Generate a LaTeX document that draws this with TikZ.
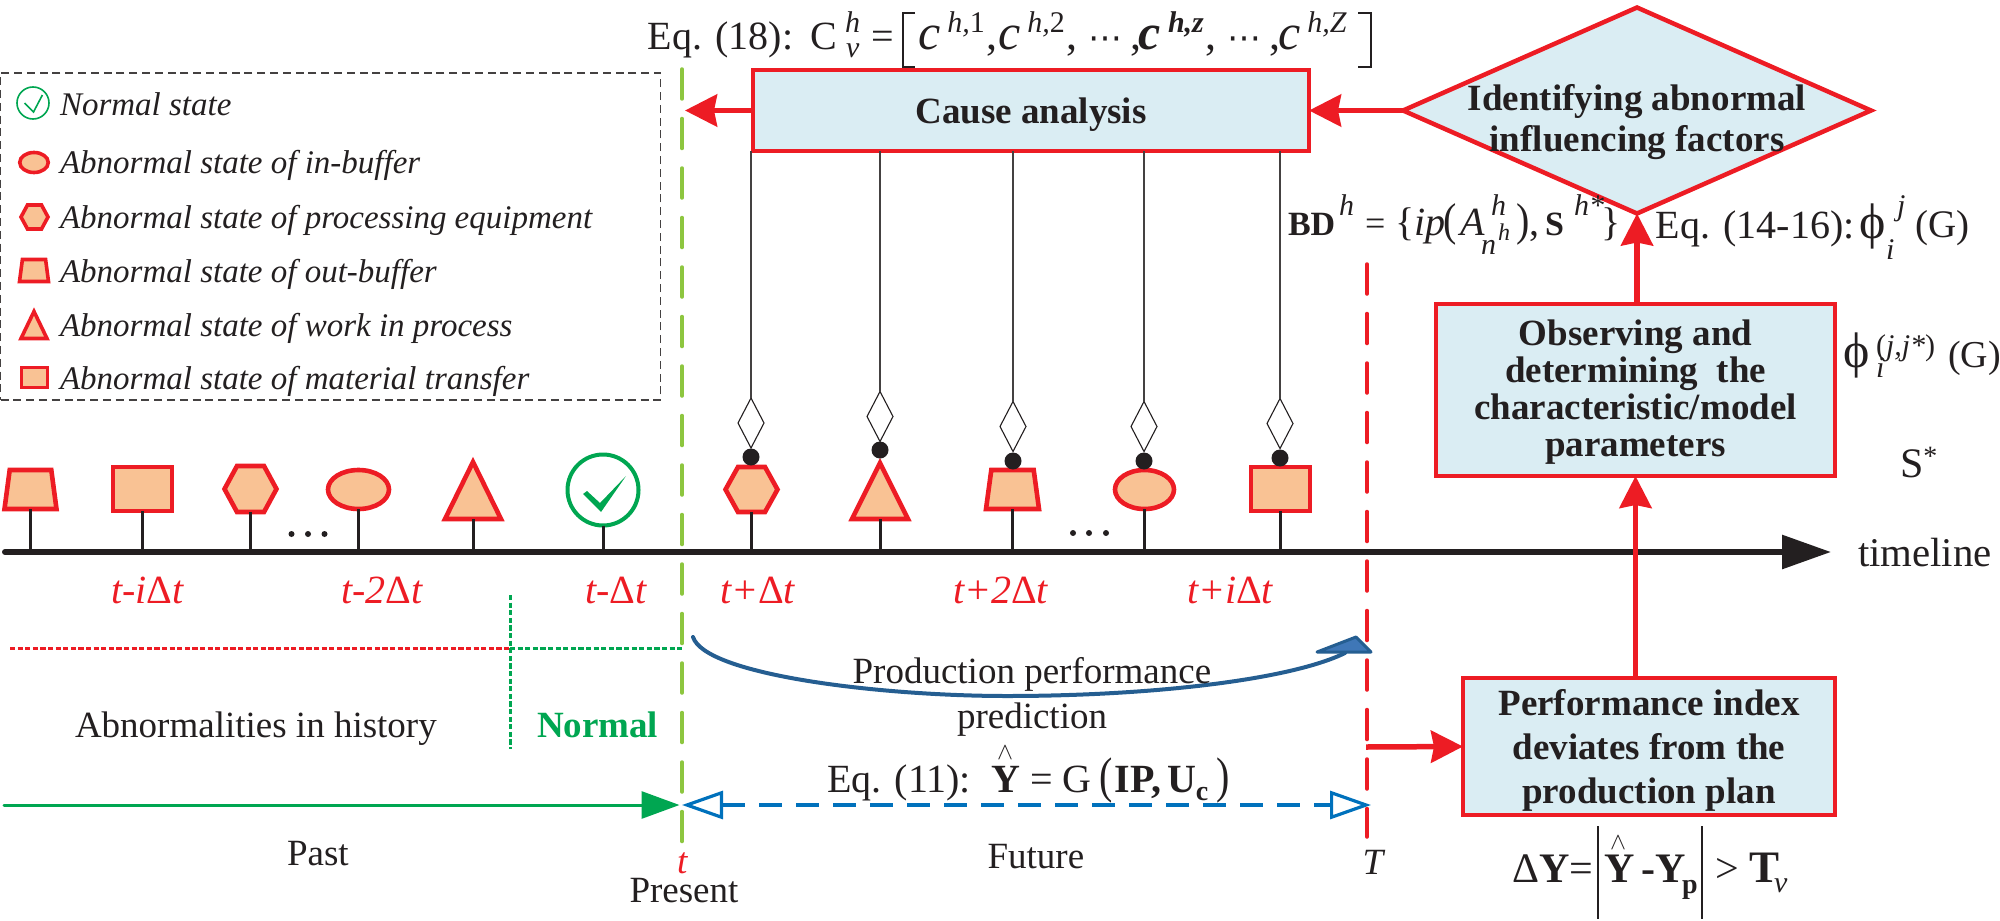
\documentclass[tikz,border=0pt]{standalone}
\usepackage{fontspec}
\setmainfont{Liberation Serif}
\newfontfamily\djv{DejaVu Sans}
\usetikzlibrary{arrows.meta,shapes.geometric,calc}
\definecolor{rd}{HTML}{ED1C24}
\definecolor{peach}{HTML}{F9C294}
\definecolor{boxfill}{HTML}{DAEDF3}
\definecolor{grn}{HTML}{00A651}
\definecolor{lime}{HTML}{8DC63F}
\definecolor{blu}{HTML}{0071BC}
\definecolor{curveblue}{HTML}{255E91}
\definecolor{headblue}{HTML}{3F77B7}
\definecolor{ink}{HTML}{231F20}
\newcommand\fsz[1]{\fontsize{#1}{#1}\selectfont}
\newcommand\sqz[2]{\scalebox{1}[#1]{#2}}
\newcommand\hatY{\rlap{\hspace{3pt}\raisebox{16.5pt}{\fsz{13}$\wedge$}}\textbf{Y}}
\newcommand\cterm[2]{{\fsz{25}\itshape #1c}\hspace{3.6pt}\raisebox{8.5pt}{\fsz{15}\itshape #1h,#2}\hspace{.6pt}{\fsz{22},}}
\tikzset{
  x=.5pt,y=-.5pt,
  every node/.style={text=ink,inner sep=0pt,outer sep=0pt},
  tx/.style={anchor=base west},
  lab/.style={tx,font=\fsz{18.5}},
  eqn/.style={tx,font=\fsz{20}},
  sups/.style={tx,font=\fsz{15}\itshape},
  leg/.style={tx,font=\fsz{16.5}\itshape},
  redt/.style={tx,font=\fsz{20}\itshape,text=rd},
  stepbox/.style={draw=rd,fill=boxfill,line width=2.25pt,align=center,font=\bfseries\fsz{18.5}},
  mk/.style={draw=rd,fill=peach,line width=2.3pt,line join=miter},
  mks/.style={draw=rd,fill=peach,line width=1.8pt,line join=miter},
  ghost/.style={draw=none,fill=none},
  stem/.style={draw=ink,line width=1.5pt},
  thin line/.style={draw=ink!85,line width=.6pt},
  hook/.style={draw=ink,fill=white,line width=.55pt,diamond,aspect=.5,minimum width=13pt,minimum height=25pt},
  ball/.style={circle,fill=ink,minimum size=8.5pt},
  redarrow/.style={draw=rd,line width=2.75pt,-{Stealth[length=16pt,width=16pt,inset=1.5pt]}},
  limedash/.style={draw=lime,line width=1.75pt,dash pattern=on 15pt off 9.75pt,line cap=round},
  reddash/.style={draw=rd,line width=1.75pt,dash pattern=on 15pt off 9.75pt,line cap=round},
  dotred/.style={draw=rd,line width=1.5pt,dash pattern=on 2.6pt off 1.2pt},
  dotgrn/.style={draw=grn,line width=1.5pt,dash pattern=on 2.6pt off 1.2pt},
}
% name, cx, cy, w, h, style
\newcommand\trapmark[6]{\node[ghost,minimum width=#4*.5pt,minimum height=#5*.5pt] (#1) at (#2,#3) {};
  \path[#6] (#1.south west) -- ($(#1.north west)!.1!(#1.north east)$) -- ($(#1.north east)!.1!(#1.north west)$) -- (#1.south east) -- cycle;}
\newcommand\hexmark[6]{\node[ghost,minimum width=#4*.5pt,minimum height=#5*.5pt] (#1) at (#2,#3) {};
  \path[#6] (#1.west) -- ($(#1.north west)!.24!(#1.north east)$) -- ($(#1.north east)!.24!(#1.north west)$) -- (#1.east) -- ($(#1.south east)!.24!(#1.south west)$) -- ($(#1.south west)!.24!(#1.south east)$) -- cycle;}
\newcommand\trimark[6]{\node[ghost,minimum width=#4*.5pt,minimum height=#5*.5pt] (#1) at (#2,#3) {};
  \path[#6] (#1.south west) -- (#1.north) -- (#1.south east) -- cycle;}
\newcommand\sqmark[6]{\node[rectangle,#6,minimum width=#4*.5pt,minimum height=#5*.5pt] (#1) at (#2,#3) {};}
\newcommand\ellmark[6]{\node[ellipse,#6,minimum width=#4*.5pt,minimum height=#5*.5pt] (#1) at (#2,#3) {};}
\begin{document}
\begin{tikzpicture}
\useasboundingbox (0,0) rectangle (2000,920);
% vertical dashed lines
\coordinate (limeTop) at (682,69); \coordinate (limeBot) at (682,842);
\draw[limedash] (limeTop) -- (limeBot);
\coordinate (tTop) at (1367,264); \coordinate (tBot) at (1367,837);
\draw[reddash] (tTop) -- (tBot);
% legend
\node[draw=ink!85,line width=.65pt,dash pattern=on 4pt off 2.4pt,minimum width=660*.5pt,minimum height=327*.5pt] (legend) at (330.5,236.5) {};
\node[circle,draw=grn,line width=.8pt,minimum size=16pt] (legCheck) at (33,103) {};
\draw[grn,line width=.8pt] (24.5,103) -- (33.5,112) -- (42.4,95);
\ellmark{legEll}{34}{162.5}{28.5}{20}{mks}
\hexmark{legHex}{34.5}{217}{27}{24}{mks}
\trapmark{legTrap}{34}{270.5}{29}{22}{mks}
\trimark{legTri}{34}{325}{26}{27}{mks}
\sqmark{legSq}{34.5}{377.5}{26}{20}{mks}
\node[leg] (l1) at (60,115) {Normal state};
\node[leg] (l2) at (60,173) {Abnormal state of in-buffer};
\node[leg] (l3) at (60,228) {Abnormal state of processing equipment};
\node[leg] (l4) at (60,282) {Abnormal state of out-buffer};
\node[leg] (l5) at (60,336) {Abnormal state of work in process};
\node[leg] (l6) at (60,389) {Abnormal state of material transfer};
% equation 18
\node[eqn] (eq18) at (647.6,50) {Eq. (18):};
\node[eqn] (eqC) at (810,50) {C};
\node[sups] (eqCh) at (845,33) {h};
\node[sups] (eqCv) at (846,58) {v};
\node[eqn] (eqEq) at (871,50) {=};
\coordinate (brLa) at (915,13); \coordinate (brLb) at (903,13); \coordinate (brLc) at (903,67); \coordinate (brLd) at (915,67);
\draw[ink,line width=.8pt] (brLa) -- (brLb) -- (brLc) -- (brLd);
\node[eqn] (c1) at (918,50) {\cterm{}{\textup{1}}};
\node[eqn] (c2) at (998,50) {\cterm{}{\textup{2}}};
\node[eqn] (d1) at (1088,50) {{\djv\fsz{17}⋯}\hspace{4pt}{\fsz{22},}};
\node[eqn] (c3) at (1138.6,50) {\cterm{\bfseries}{z}};
\node[eqn] (d2) at (1227,50) {{\djv\fsz{17}⋯}\hspace{4pt}{\fsz{22},}};
\node[eqn] (c4) at (1278,50) {{\fsz{25}\itshape c}\hspace{3.6pt}\raisebox{8.5pt}{\fsz{15}\itshape h,Z}};
\coordinate (brRa) at (1358,13); \coordinate (brRb) at (1371,13); \coordinate (brRc) at (1371,67); \coordinate (brRd) at (1358,67);
\draw[ink,line width=.8pt] (brRa) -- (brRb) -- (brRc) -- (brRd);
% cause analysis box
\node[stepbox,minimum width=556*.5pt,minimum height=81*.5pt] (cause) at (1031,110.5) {\rule{0pt}{17.3pt}Cause analysis};
\coordinate (causeTip) at (685,110.5);
\draw[redarrow] (cause.west) -- (causeTip);
% diamond
\node[diamond,draw=rd,fill=boxfill,line width=2.25pt,minimum width=468*.5pt,minimum height=206*.5pt,aspect=2.27,font=\bfseries\fsz{18.5}] (identify) at (1637,110.5) {\makebox[0pt]{\begin{tabular}{@{}c@{}}\rule{0pt}{26pt}Identifying abnormal\\[1.5pt]influencing factors\end{tabular}}};
\draw[redarrow] (identify.west) -- (cause.east);
% observing box
\node[stepbox,minimum width=399*.5pt,minimum height=172*.5pt] (observe) at (1635.5,390) {\rule{0pt}{14.8pt}Observing and\\[.0pt]determining\ \ the\\characteristic/model\\parameters};
\draw[redarrow] (observe.north -| identify.south) -- (identify.south);
% performance box
\node[stepbox,minimum width=372*.5pt,minimum height=137*.5pt] (perf) at (1649,746.5) {\rule{0pt}{16.8pt}Performance index\\[3.6pt]deviates from the\\[3.6pt]production plan};
% timeline
\coordinate (axisL) at (5,552); \coordinate (axisR) at (1831,552);
\draw[ink,line width=3pt,line cap=round,-{Triangle[length=24.5pt,width=16.5pt]}] (axisL) -- (axisR);
\node[tx,font=\fsz{20.4}] (timeline) at (1858,566) {timeline};
\draw[redarrow] (perf.north -| observe.south) -- (observe.south);
\coordinate (tMid) at (1366,747);
\draw[redarrow] (tMid) -- (perf.west);
% past markers
\trapmark{p1}{30.5}{489.5}{52}{39}{mk}
\sqmark{p2}{142.5}{489}{59}{44}{mk}
\hexmark{p3}{250.5}{489}{52}{46}{mk}
\ellmark{p4}{358.5}{489.5}{61}{39}{mk}
\trimark{p5}{473}{490.5}{56}{57}{mk}
\node[circle,draw=grn,line width=2pt,minimum size=35.5pt] (p6) at (603,490) {};
\path[fill=grn] (583,494) -- (587,491) -- (600,503) -- (626,476) -- (601,512) -- cycle;
\foreach \n in {p1,p2,p3,p4,p5,p6} \draw[stem] (\n.south) -- (\n.south |- axisL);
\foreach \i/\xx in {1/291.5,2/308,3/324.5} \node[circle,fill=ink,minimum size=3pt] (dl\i) at (\xx,534) {};
% future markers
\hexmark{f1}{751.5}{489.5}{52}{45}{mk}
\trimark{f2}{880}{491}{56}{56}{mk}
\trapmark{f3}{1012.5}{489.5}{53}{39}{mk}
\ellmark{f4}{1144.5}{489.5}{59}{39}{mk}
\sqmark{f5}{1280.5}{489}{59}{44}{mk}
\foreach \n in {f1,f2,f3,f4,f5} \draw[stem] (\n.south) -- (\n.south |- axisL);
\foreach \i/\xx in {1/1073,2/1089,3/1106} \node[circle,fill=ink,minimum size=3pt] (dr\i) at (\xx,533) {};
% hooks
\foreach \n/\xx/\ym/\yb in {1/751/423/457,2/880/416.5/450,3/1013/426.5/461,4/1144/426.5/461,5/1280/423.5/458}{
  \node[hook] (hk\n) at (\xx,\ym) {};
  \node[ball] (bl\n) at (\xx,\yb) {};
  \draw[thin line] (cause.south -| hk\n) -- (hk\n.north);
}
% time labels
\node[redt] (tl1) at (111,603) {t-i{\upshape Δ}t};
\node[redt] (tl2) at (341.5,603) {t-2{\upshape Δ}t};
\node[redt] (tl3) at (585,603) {t-{\upshape Δ}t};
\node[redt] (tl4) at (720,603) {t+{\upshape Δ}t};
\node[redt] (tl5) at (953,603) {t+2{\upshape Δ}t};
\node[redt] (tl6) at (1187,603) {t+i{\upshape Δ}t};
% dotted lines
\coordinate (dotL) at (10,648); \coordinate (dotM) at (510,648); \coordinate (dotR) at (683,648);
\coordinate (dotT) at (510,595); \coordinate (dotB) at (510,749);
\draw[dotred] (dotL) -- (dotM);
\draw[dotgrn] (dotM) -- (dotR);
\draw[dotgrn] (dotT) -- (dotB);
\node[lab] (hist) at (75,737) {Abnormalities in history};
\node[lab,font=\bfseries\fsz{18.5},text=grn] (normal) at (537,737) {Normal};
% prediction curve
\coordinate (cvS) at (693,637); \coordinate (cvM) at (1007,696); \coordinate (cvE) at (1345,653);
\draw[curveblue,line width=2pt,line cap=round] (cvS) .. controls (705,675) and (880,696) .. (cvM) .. controls (1150,696) and (1290,680) .. (cvE);
\coordinate (hdA) at (1317,652); \coordinate (hdB) at (1356,637); \coordinate (hdC) at (1371,652);
\draw[curveblue,fill=headblue,line width=1.5pt,line join=round] (hdA) -- (hdB) -- (hdC) -- cycle;
\node[lab] (pp1) at (852.6,683) {Production performance};
\node[lab] (pp2) at (957,728) {prediction};
% bottom arrows
\coordinate (pastL) at (4,805); \coordinate (pastR) at (679.5,805);
\draw[grn,line width=1.5pt,line cap=round,-{Triangle[length=19pt,width=13.5pt]}] (pastL) -- (pastR);
\coordinate (futL) at (682,805); \coordinate (futR) at (1371,805);
\draw[blu,line width=1.6pt,dash pattern=on 11.5pt off 7pt,{Triangle[open,length=20.5pt,width=14pt]}-{Triangle[open,length=20.5pt,width=14pt]}] (futL) -- (futR);
\node[lab] (past) at (287,865) {Past};
\node[redt,font=\fsz{18.5}\itshape] (tt) at (677,873) {t};
\node[lab] (present) at (629.5,902) {Present};
\node[lab] (future) at (987.6,868) {Future};
\node[redt,font=\fsz{18.5}\itshape,text=ink] (TT) at (1362.5,874) {T};
% equation 11
\node[eqn] (eq11) at (827,792) {Eq. (11):};
\node[eqn] (eq11y) at (991,792) {\hatY};
\node[eqn] (eq11g) at (1030,792) {=\hspace{5pt}G\hspace{4pt}\sqz{1.25}{(}\hspace{1pt}\textbf{IP,}\hspace{3pt}\textbf{U}\raisebox{-4pt}{\bfseries\fsz{14}c}\hspace{4pt}\sqz{1.25}{)}};
% delta equation
\node[eqn,font=\fsz{21}] (dy) at (1512,882) {Δ\textbf{Y}=};
\coordinate (barAt) at (1598,826); \coordinate (barAb) at (1598,919);
\coordinate (barBt) at (1702,826); \coordinate (barBb) at (1702,919);
\draw[ink,line width=.8pt] (barAt) -- (barAb);
\draw[ink,line width=.8pt] (barBt) -- (barBb);
\node[eqn,font=\fsz{21}] (dyh) at (1604,882) {\hatY};
\node[eqn,font=\bfseries\fsz{21}] (dym) at (1641,882) {-};
\node[eqn,font=\bfseries\fsz{21}] (dyp) at (1655,882) {Y};
\node[tx,font=\bfseries\fsz{14}] (dyps) at (1682,893) {p};
\node[eqn,font=\fsz{21}] (dygt) at (1715,882) {>};
\node[eqn,font=\bfseries\fsz{22.5}] (dyT) at (1749,882) {T};
\node[sups] (dyv) at (1774,892) {v};
% BD equation
\node[tx,font=\bfseries\fsz{17}] (bd) at (1288,235) {BD};
\node[sups] (bdh) at (1339,215) {h};
\node[eqn,font=\fsz{18}] (bdeq) at (1365,235) {=};
\node[eqn] (bdb) at (1395,235) {\{\itshape ip};
\node[eqn] (bdp) at (1443,235) {\sqz{1.15}{(}};
\node[eqn,font=\fsz{20}\itshape] (bdA) at (1460,235) {A};
\node[sups] (bdAh) at (1491,215) {h};
\node[sups] (bdAn) at (1481,254) {n};
\node[sups,font=\fsz{12}\itshape] (bdAnh) at (1498,240) {h};
\node[eqn] (bdq) at (1516,235) {\sqz{1.15}{)},};
\node[tx,font=\bfseries\fsz{17}] (bdS) at (1545,235) {S};
\node[sups] (bdSh) at (1574,215) {h*};
\node[eqn] (bdr) at (1601,235) {\}};
% phi labels
\node[eqn] (eq14) at (1655.6,238) {Eq. (14-16):};
\node[eqn,font=\fsz{25}] (phi1) at (1859,238) {ϕ};
\node[sups] (phi1j) at (1897,215) {j};
\node[sups] (phi1i) at (1886,259) {i};
\node[eqn,font=\fsz{19.5}] (phi1g) at (1915,237) {(G)};
\node[eqn,font=\fsz{25}] (phi2) at (1843,367) {ϕ};
\node[sups] (phi2s) at (1876,355) {\upshape (\itshape j,j*\upshape )};
\node[sups] (phi2i) at (1876,377) {i};
\node[eqn,font=\fsz{19}] (phi2g) at (1948,367) {(G)};
\node[eqn,font=\fsz{21}] (sstar) at (1900,477) {S\raisebox{6pt}{\fsz{14}*}};
\end{tikzpicture}
\end{document}
